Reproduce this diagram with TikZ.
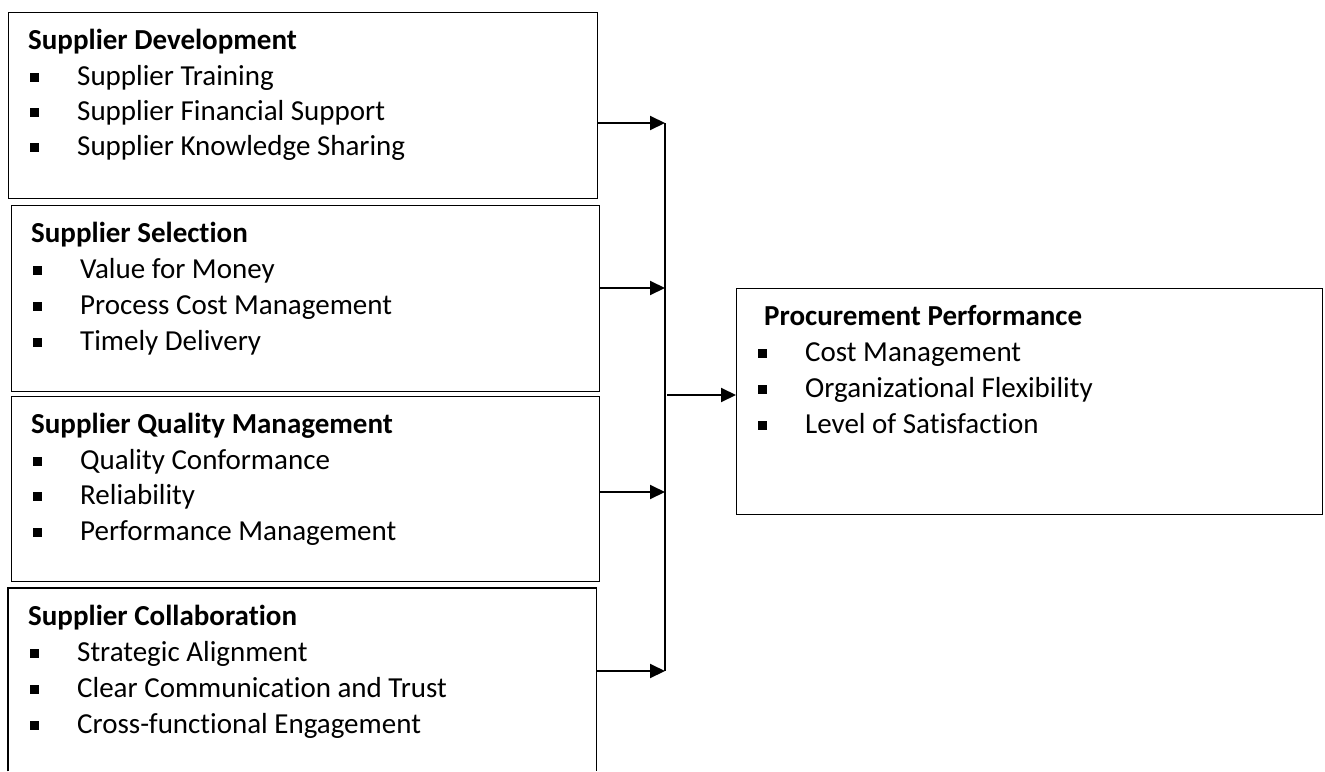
\documentclass[tikz,border=0pt]{standalone}
\usepackage{fontspec}
\setmainfont{Carlito}[Ligatures=NoCommon]
\usetikzlibrary{arrows.meta}
\newcommand\sqbul{\raisebox{3pt}{\rule{9pt}{9pt}}}
\newcommand\litem[1]{\makebox[49pt][l]{\hspace*{2pt}\sqbul}#1}
\newcommand\ritem[1]{\makebox[47pt][l]{\sqbul}#1}
\begin{document}
\begin{tikzpicture}[x=1pt,y=1pt]
\tikzset{
  frame/.style={draw=black, line width=1.1pt, inner sep=0pt, anchor=north west},
  openframe/.style={inner sep=0pt, anchor=north west},
  txt/.style={anchor=base west, inner sep=0pt, font=\fontsize{29pt}{36pt}\selectfont},
  head/.style={anchor=base west, inner sep=0pt, font=\fontsize{29pt}{36pt}\selectfont\bfseries},
  conn/.style={line width=2pt, -{Triangle[length=15pt,width=14pt]}},
  spine/.style={line width=1.8pt}
}
\useasboundingbox[fill=white] (0,0) rectangle (1325,-771);

% boxes
\node[frame, minimum width=589pt, minimum height=186pt] (dev) at (8,-12) {};
\node[frame, minimum width=588pt, minimum height=186pt] (sel) at (11,-205) {};
\node[frame, minimum width=588pt, minimum height=185pt] (qual) at (11,-396) {};
\node[openframe, minimum width=588pt, minimum height=183pt] (col) at (8,-588) {};
\draw[line width=1.1pt] (col.south west) -- (col.north west) -- (col.north east) -- (col.south east);
\node[frame, minimum width=586pt, minimum height=226pt] (perf) at (736,-288) {};

% Supplier Development
\node[head] (d0) at (28,-49) {Supplier Development};
\node[txt] (d1) at (28,-85) {\litem{Supplier Training}};
\node[txt] (d2) at (28,-120) {\litem{Supplier Financial Support}};
\node[txt] (d3) at (28,-155) {\litem{Supplier Knowledge Sharing}};

% Supplier Selection
\node[head] (s0) at (31,-242) {Supplier Selection};
\node[txt] (s1) at (31,-278) {\litem{Value for Money}};
\node[txt] (s2) at (31,-314) {\litem{Process Cost Management}};
\node[txt] (s3) at (31,-350) {\litem{Timely Delivery}};

% Supplier Quality Management
\node[head] (q0) at (31,-433) {Supplier Quality Management};
\node[txt] (q1) at (31,-469) {\litem{Quality Conformance}};
\node[txt] (q2) at (31,-504) {\litem{Reliability}};
\node[txt] (q3) at (31,-540) {\litem{Performance Management}};

% Supplier Collaboration
\node[head] (c0) at (28,-625) {Supplier Collaboration};
\node[txt] (c1) at (28,-661) {\litem{Strategic Alignment}};
\node[txt] (c2) at (28,-697) {\litem{Clear Communication and Trust}};
\node[txt] (c3) at (28,-733) {\litem{Cross-functional Engagement}};

% Procurement Performance
\node[head] (p0) at (764,-325) {Procurement Performance};
\node[txt] (p1) at (758,-361) {\ritem{Cost Management}};
\node[txt] (p2) at (758,-397) {\ritem{Organizational Flexibility}};
\node[txt] (p3) at (758,-433) {\ritem{Level of Satisfaction}};

% connectors
\coordinate (j1) at (665,-123);
\coordinate (j2) at (665,-288);
\coordinate (j3) at (665,-492);
\coordinate (j4) at (665,-671);
\coordinate (jo) at (667,-395);
\draw[spine] (j1) -- (j4);
\draw[conn] (dev.east |- j1) -- (j1);
\draw[conn] (sel.east |- j2) -- (j2);
\draw[conn] (qual.east |- j3) -- (j3);
\draw[conn] (col.east |- j4) -- (j4);
\draw[conn] (jo) -- (perf.west |- jo);
\end{tikzpicture}
\end{document}
